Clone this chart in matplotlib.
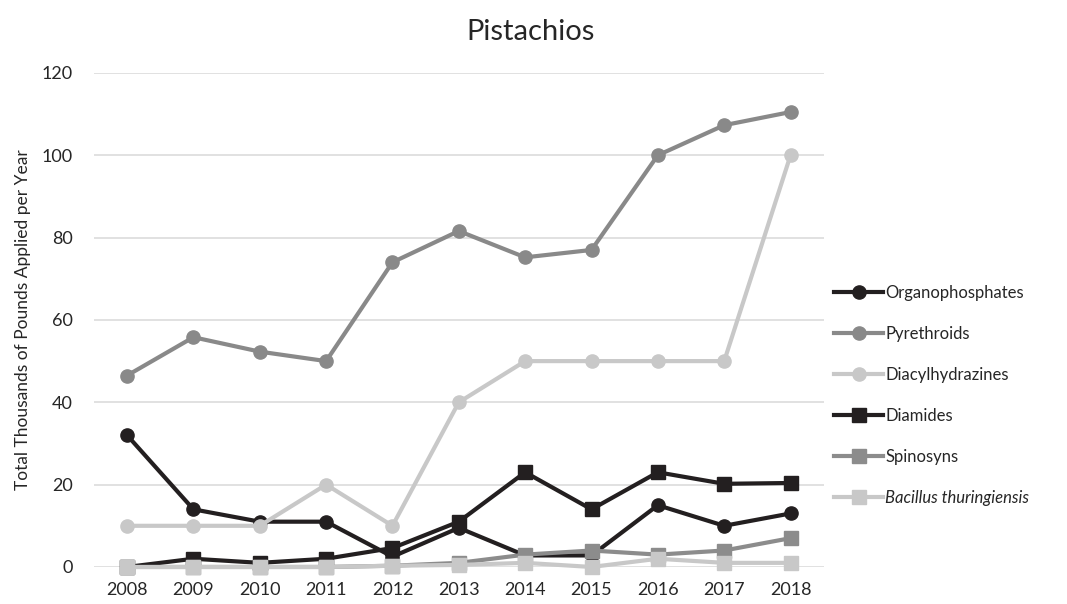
import matplotlib
matplotlib.use('Agg')
import matplotlib.pyplot as plt

years = [2008, 2009, 2010, 2011, 2012, 2013, 2014, 2015, 2016, 2017, 2018]

organophosphates = [32, 14, 11, 11, 2.5, 9.5, 2.8, 2.8, 15, 10, 13]
pyrethroids = [46.5, 55.8, 52.3, 50, 74, 81.6, 75.2, 77, 100, 107.3, 110.5]
diacylhydrazines = [10, 10, 10, 20, 10, 40, 50, 50, 50, 50, 100]
diamides = [0, 2, 1, 2, 4.6, 11, 23, 14, 23, 20.2, 20.4]
spinosyns = [0, 0, 0, 0, 0.3, 1, 3, 4, 3, 4, 7]
bacillus = [0, 0, 0, 0, 0.3, 0.5, 1, 0, 2, 1, 1]

plt.rcParams['font.family'] = ['Lato', 'DejaVu Sans']

fig = plt.figure(figsize=(10.67, 6.04), dpi=100)
ax = fig.add_axes([0.088, 0.0613, 0.684, 0.818])

series = [
    (organophosphates, 'Organophosphates', '#231f20', 'o'),
    (pyrethroids, 'Pyrethroids', '#898989', 'o'),
    (diacylhydrazines, 'Diacylhydrazines', '#c8c8c8', 'o'),
    (diamides, 'Diamides', '#231f20', 's'),
    (spinosyns, 'Spinosyns', '#8c8c8c', 's'),
    (bacillus, 'Bacillus thuringiensis', '#c8c8c8', 's'),
]

for vals, name, col, mk in series:
    ax.plot(years, vals, color=col, marker=mk, lw=3, markersize=9.5,
            label=name, solid_joinstyle='round', clip_on=False)

ax.set_xlim(2007.5, 2018.5)
ax.set_ylim(0, 120)
ax.set_xticks(years)
ax.set_yticks(range(0, 121, 20))
ax.grid(axis='y', color='#d9d9d9', lw=1.1)
ax.set_axisbelow(True)
for s in ax.spines.values():
    s.set_visible(False)
ax.tick_params(length=0, labelsize=13, colors='#262626')
ax.tick_params(axis='y', pad=15)
ax.tick_params(axis='x', pad=11)
ax.set_ylabel('Total Thousands of Pounds Applied per Year', fontsize=12.5,
              color='#262626', labelpad=8)
fig.suptitle('Pistachios', fontsize=21, x=0.497, y=0.968, color='#262626')

leg = fig.legend(loc='center left', bbox_to_anchor=(0.768, 0.346), frameon=False,
                 fontsize=12, labelspacing=1.5, handlelength=2.9,
                 handletextpad=0.15)
for t in leg.get_texts():
    t.set_color('#262626')
leg.get_texts()[-1].set_style('italic')

fig.savefig('out.png', dpi=100)
